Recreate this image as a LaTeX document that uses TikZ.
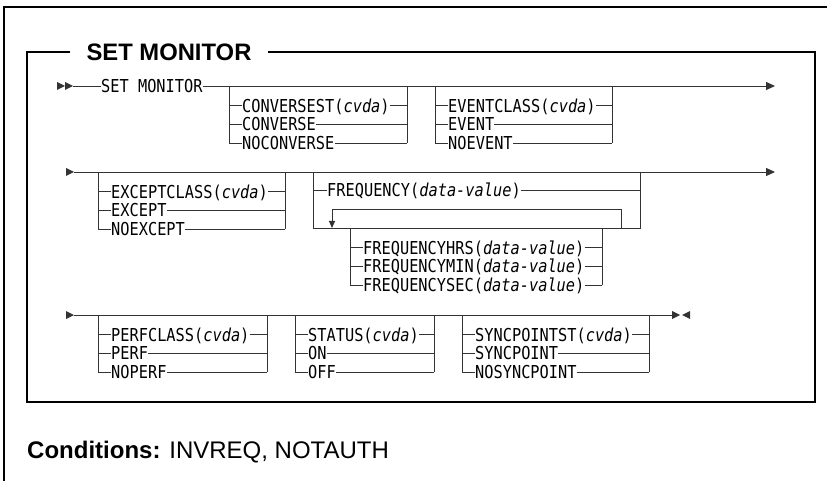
\documentclass[tikz,border=0pt]{standalone}
\usepackage{fontspec}
\setmainfont{Liberation Sans}
\newfontfamily\railfont[FakeStretch=0.86]{DejaVu Sans Mono}
\usetikzlibrary{arrows.meta, positioning, calc}

\definecolor{railgray}{HTML}{333333}

\begin{document}
\begin{tikzpicture}[
    x=1pt, y=-1pt,
    opt/.style={font=\railfont\fontsize{17.8}{19}\selectfont, inner sep=0pt, text height=13pt, text depth=0pt, anchor=west},
    rail/.style={draw=railgray, line width=0.9pt},
    frame/.style={draw=black, line width=1.4pt},
    railend/.style={rail, -{Triangle[length=9pt, width=8pt]}},
    loopend/.style={rail, -{Triangle[length=7pt, width=6pt]}},
    tri/.pic={\fill[railgray] (0,-4) -- (8,0) -- (0,4) -- cycle;},
]
    \useasboundingbox (0,0) rectangle (827,481);

    % Frames
    \draw[frame] (4,481) -- (4,7) -- (827,7);
    \node[font=\bfseries\fontsize{23.8}{26}\selectfont, inner xsep=16pt, inner ysep=0pt] (title) at (169,52) {SET MONITOR};
    \draw[frame] (title.west) -- (27,52) -- (27,402) -- (815,402) -- (815,52) -- (title.east);

    % Row 1
    \pic at (57,86) {tri};
    \pic at (65,86) {tri};
    \coordinate (r1a) at (73,86);
    \coordinate (r1b) at (775,86);
    \node[opt] (setmon) at (101,86) {SET MONITOR};
    \draw[rail] (r1a) -- (setmon);
    \draw[railend] (setmon) -- (r1b);

    % Row 2
    \pic at (66,172) {tri};
    \coordinate (r2a) at (74,172);
    \coordinate (r2b) at (775,172);
    \draw[railend] (r2a) -- (r2b);

    % Row 3
    \pic at (66,315) {tri};
    \coordinate (r3a) at (74,315);
    \coordinate (r3b) at (672,315);
    \draw[rail] (r3a) -- (r3b);
    \pic at (672,315) {tri};
    \pic[rotate=180] at (690,315) {tri};

    % Option groups
    \foreach \g/\xl/\xr/\y/\opts in {
        conv/229/407/86/{1/{CONVERSEST(\textit{cvda})},2/CONVERSE,3/NOCONVERSE},
        event/435/612/86/{1/{EVENTCLASS(\textit{cvda})},2/EVENT,3/NOEVENT},
        exc/98/285/172/{1/{EXCEPTCLASS(\textit{cvda})},2/EXCEPT,3/NOEXCEPT},
        fsub/350/602/228/{1/{FREQUENCYHRS(\textit{data-value})},2/{FREQUENCYMIN(\textit{data-value})},3/{FREQUENCYSEC(\textit{data-value})}},
        perf/98/267/315/{1/{PERFCLASS(\textit{cvda})},2/PERF,3/NOPERF},
        stat/295/434/315/{1/{STATUS(\textit{cvda})},2/ON,3/OFF},
        sync/462/649/315/{1/{SYNCPOINTST(\textit{cvda})},2/SYNCPOINT,3/NOSYNCPOINT}} {
        \coordinate (\g L) at (\xl,\y);
        \coordinate (\g R) at (\xr,\y);
        \foreach \i/\t in \opts {
            \node[opt] (\g\i) at ($(\g L)+(13,1.2+18.6*\i)$) {\t};
            \draw[rail] (\g\i.west -| \g L) -- (\g\i.west);
            \draw[rail] (\g\i.east) -- (\g\i.east -| \g R);
        }
        \draw[rail] (\g L) -- (\g3.west -| \g L);
        \draw[rail] (\g R) -- (\g3.east -| \g R);
    }

    % FREQUENCY group with repeat loop
    \coordinate (freqL) at (313,172);
    \coordinate (freqR) at (640,172);
    \coordinate (freqBL) at (313,228);
    \coordinate (freqBR) at (640,228);
    \node[opt] (freq) at (327,190) {FREQUENCY(\textit{data-value})};
    \draw[rail] (freqL) -- (freqBL) -- (freqBR) -- (freqR);
    \draw[rail] (freq.west -| freqL) -- (freq.west);
    \draw[rail] (freq.east) -- (freq.east -| freqR);
    \coordinate (loopR) at (621,228);
    \coordinate (loopL) at (332,228);
    \draw[loopend] (loopR) -- ++(0,-19) -| (loopL);

    % Conditions
    \node[anchor=west, inner sep=0pt, font=\fontsize{24}{28}\selectfont] (cond) at (27,452) {\textbf{Conditions:} INVREQ, NOTAUTH};
\end{tikzpicture}
\end{document}
